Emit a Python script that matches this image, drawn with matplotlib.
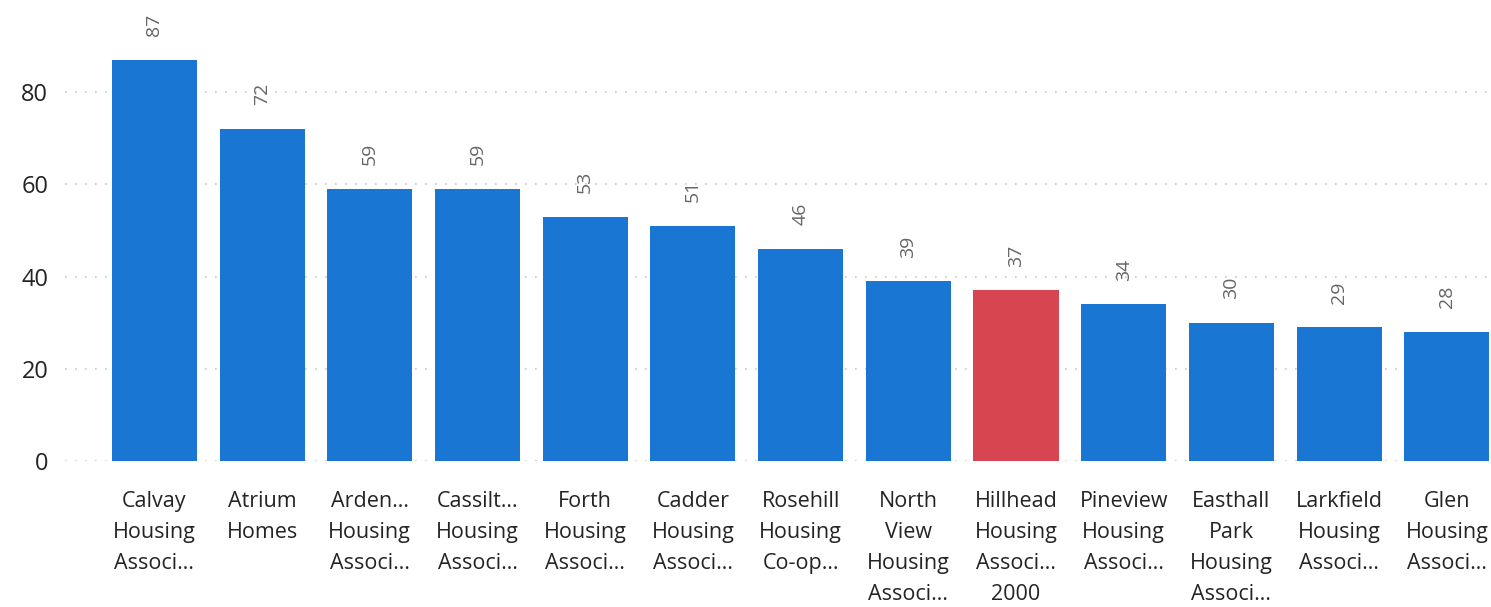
import matplotlib.pyplot as plt

names = ["Calvay\nHousing\nAssoci…", "Atrium\nHomes", "Arden…\nHousing\nAssoci…",
         "Cassilt…\nHousing\nAssoci…", "Forth\nHousing\nAssoci…", "Cadder\nHousing\nAssoci…",
         "Rosehill\nHousing\nCo-op…", "North\nView\nHousing\nAssoci…",
         "Hillhead\nHousing\nAssoci…\n2000", "Pineview\nHousing\nAssoci…",
         "Easthall\nPark\nHousing\nAssoci…", "Larkfield\nHousing\nAssoci…",
         "Glen\nHousing\nAssoci…"]
values = [87, 72, 59, 59, 53, 51, 46, 39, 37, 34, 30, 29, 28]
highlight = "Hillhead\nHousing\nAssoci…\n2000"

blue = "#1976d2"
red = "#d64550"

plt.rcParams['font.family'] = ['Open Sans', 'DejaVu Sans']

fig = plt.figure(figsize=(14.91, 6.07), dpi=100)
ax = fig.add_axes([65 / 1491, 1 - 461 / 607, 1 - 65 / 1491, 461 / 607])

colors = [red if n == highlight else blue for n in names]
x = list(range(len(names)))
ax.bar(x, values, width=0.79, color=colors, zorder=2)

# value labels, rotated, above bars
for xi, v in zip(x, values):
    ax.annotate(str(v), (xi, v), xytext=(0, 17), textcoords="offset points",
                rotation=90, ha="center", va="bottom", fontsize=14, color="#666666")

ax.set_xlim(-0.83, 12.41)
ax.set_ylim(0, 100)
ax.set_yticks([0, 20, 40, 60, 80])
ax.set_xticks(x)
ax.set_xticklabels(names, fontsize=15.5, color="#252423", linespacing=1.63)
ax.tick_params(axis="x", length=0, pad=21.5)
ax.tick_params(axis="y", length=0, pad=12, labelsize=17, labelcolor="#252423")

ax.grid(axis="y", color="#c8c8c8", linestyle=(0, (1, 5)), linewidth=1.2, zorder=0)
for s in ax.spines.values():
    s.set_visible(False)

fig.savefig("out.png", dpi=100)
